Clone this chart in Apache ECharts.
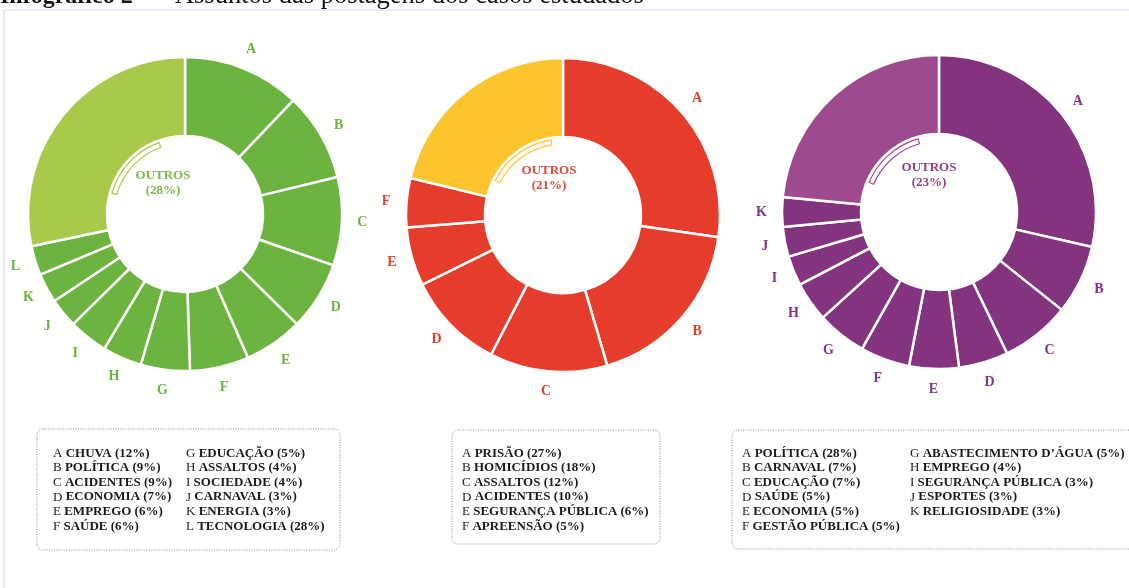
<!DOCTYPE html>
<html>
<head>
<meta charset="utf-8">
<script src="https://cdn.jsdelivr.net/npm/echarts@6/dist/echarts.min.js"></script>
<style>
  html, body { margin: 0; padding: 0; background: #fff; }
  #main { width: 1129px; height: 588px; }
</style>
</head>
<body>
<div id="main"></div>
<script>
// dados do infográfico
var letrasVerde = ['A', 'B', 'C', 'D', 'E', 'F', 'G', 'H', 'I', 'J', 'K', 'L'];
var valoresVerde = [12, 9, 9, 7, 6, 6, 5, 4, 4, 3, 3, 3];
var outrosVerde = 28;
var legendaVerde = ['CHUVA (12%)', 'POLÍTICA (9%)', 'ACIDENTES (9%)', 'ECONOMIA (7%)', 'EMPREGO (6%)', 'SAÚDE (6%)',
  'EDUCAÇÃO (5%)', 'ASSALTOS (4%)', 'SOCIEDADE (4%)', 'CARNAVAL (3%)', 'ENERGIA (3%)', 'TECNOLOGIA (28%)'];

var letrasVermelho = ['A', 'B', 'C', 'D', 'E', 'F'];
var valoresVermelho = [27, 18, 12, 10, 6, 5];
var outrosVermelho = 21;
var legendaVermelho = ['PRISÃO (27%)', 'HOMICÍDIOS (18%)', 'ASSALTOS (12%)', 'ACIDENTES (10%)',
  'SEGURANÇA PÚBLICA (6%)', 'APREENSÃO (5%)'];

var letrasRoxo = ['A', 'B', 'C', 'D', 'E', 'F', 'G', 'H', 'I', 'J', 'K'];
var valoresRoxo = [28, 7, 7, 5, 5, 5, 5, 4, 3, 3, 3];
var outrosRoxo = 23;
var legendaRoxo = ['POLÍTICA (28%)', 'CARNAVAL (7%)', 'EDUCAÇÃO (7%)', 'SAÚDE (5%)', 'ECONOMIA (5%)', 'GESTÃO PÚBLICA (5%)',
  'ABASTECIMENTO D’ÁGUA (5%)', 'EMPREGO (4%)', 'SEGURANÇA PÚBLICA (3%)', 'ESPORTES (3%)', 'RELIGIOSIDADE (3%)'];

var FONTE = '"Liberation Serif", "Times New Roman", serif';

// layout de cada rosca
var graficos = [
  {
    letras: letrasVerde, valores: valoresVerde, outros: outrosVerde, legenda: legendaVerde,
    centro: [185, 214], cor: '#6cb33f', corOutros: '#a9c94a', corTexto: '#7ab94c',
    chave: [286, 340], textoOff: [-22, -31],
    caixa: [37, 429, 303, 121], colunas: [53, 186], porColuna: 6
  },
  {
    letras: letrasVermelho, valores: valoresVermelho, outros: outrosVermelho, legenda: legendaVermelho,
    centro: [563, 215], cor: '#e63c2b', corOutros: '#fcc42d', corTexto: '#e0473a',
    chave: [297, 351], textoOff: [-14, -37],
    caixa: [452, 430, 208, 114], colunas: [462], porColuna: 6
  },
  {
    letras: letrasRoxo, valores: valoresRoxo, outros: outrosRoxo, legenda: legendaRoxo,
    centro: [939, 212], cor: '#84347f', corOutros: '#9e4a8f', corTexto: '#8d3c88',
    chave: [293, 344], textoOff: [-10, -37],
    caixa: [732, 430, 420, 119], colunas: [742, 910], porColuna: 6
  }
];

var series = [];
var graphic = [];

// moldura e título
graphic.push({
  type: 'rect', shape: { x: 4, y: 10, width: 1140, height: 600 },
  style: { fill: '#fffffd', stroke: '#d9d5e8', lineWidth: 1.2 }, silent: true
});
graphic.push({
  type: 'text', x: 0, y: -3,
  style: { text: 'Infográfico 2', font: 'bold 24px ' + FONTE, fill: '#111', verticalAlign: 'middle' }
});
graphic.push({
  type: 'text', x: 155, y: -4,
  style: { text: '– Assuntos das postagens dos casos estudados', font: '26.5px ' + FONTE, fill: '#111', verticalAlign: 'middle' }
});

graficos.forEach(function (g) {
  var dados = g.letras.map(function (l, i) {
    return { name: l, value: g.valores[i], itemStyle: { color: g.cor } };
  });
  dados.push({ name: 'OUTROS', value: g.outros, itemStyle: { color: g.corOutros } });

  // anel principal
  series.push({
    type: 'pie', center: g.centro, radius: [78, 157], startAngle: 90, clockwise: true,
    silent: true, animation: false, label: { show: false }, labelLine: { show: false },
    itemStyle: { borderColor: '#fff', borderWidth: 2.5 },
    data: dados
  });

  // anel invisível para as letras
  series.push({
    type: 'pie', center: g.centro, radius: [157, 192], startAngle: 90, clockwise: true,
    silent: true, animation: false, labelLine: { show: false },
    itemStyle: { color: 'rgba(0,0,0,0)' },
    label: {
      show: true, position: 'inside', color: g.cor, fontFamily: FONTE,
      fontWeight: 'bold', fontSize: 14,
      formatter: function (p) { return p.name === 'OUTROS' ? '' : p.name; }
    },
    data: dados.map(function (d) { return { name: d.name, value: d.value }; })
  });

  // chave (contorno) dentro do furo, junto a "outros"
  var ini = g.chave[0], fim = g.chave[1];
  series.push({
    type: 'pie', center: g.centro, radius: [71, 76], startAngle: 90 - ini, clockwise: true,
    silent: true, animation: false, label: { show: false }, labelLine: { show: false },
    data: [
      { value: fim - ini, itemStyle: { color: '#fff', borderColor: g.corOutros, borderWidth: 1.2 } },
      { value: 360 - (fim - ini), itemStyle: { color: 'rgba(0,0,0,0)' } }
    ]
  });

  // texto central
  graphic.push({
    type: 'text', x: g.centro[0] + g.textoOff[0], y: g.centro[1] + g.textoOff[1],
    style: {
      text: 'OUTROS\n(' + g.outros + '%)', fill: g.corTexto, align: 'center', verticalAlign: 'middle',
      font: 'bold 13px ' + FONTE, lineHeight: 15
    }
  });

  // caixa da legenda
  graphic.push({
    type: 'rect', shape: { x: g.caixa[0], y: g.caixa[1], width: g.caixa[2], height: g.caixa[3], r: 6 },
    style: { fill: '#fff', stroke: '#8a8a8a', lineWidth: 1, lineDash: [1, 1.5] }, silent: true
  });
  g.colunas.forEach(function (x, c) {
    var linhas = [];
    for (var i = c * g.porColuna; i < Math.min((c + 1) * g.porColuna, g.letras.length); i++) {
      linhas.push('{l|' + g.letras[i] + '} {n|' + g.legenda[i] + '}');
    }
    graphic.push({
      type: 'text', x: x, y: 446,
      style: {
        text: linhas.join('\n'), fill: '#1a1a1a', font: '13px ' + FONTE, lineHeight: 14.6,
        rich: {
          l: { fontSize: 13, fontFamily: FONTE, lineHeight: 14.6 },
          n: { fontSize: 13, fontFamily: FONTE, fontWeight: 'bold', lineHeight: 14.6 }
        }
      }
    });
  });
});

var chart = echarts.init(document.getElementById('main'), null, { renderer: 'canvas' });
chart.setOption({
  backgroundColor: '#fff',
  animation: false,
  graphic: graphic,
  series: series
});
</script>
</body>
</html>
